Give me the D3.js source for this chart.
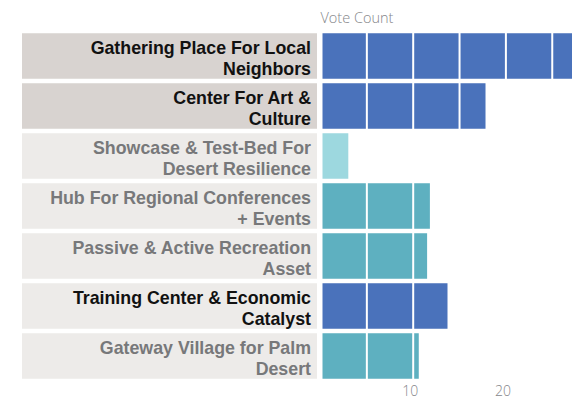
<!DOCTYPE html>
<html>
<head>
<meta charset="utf-8">
<script src="https://cdn.jsdelivr.net/npm/d3@7"></script>
<style>
  html, body { margin: 0; padding: 0; background: #fff; }
  svg { display: block; }
</style>
</head>
<body>
<svg id="chart" width="572" height="400"></svg>
<script>
// ---- data ----
const categories = [
  ["Gathering Place For Local", "Neighbors"],
  ["Center For Art &", "Culture"],
  ["Showcase & Test-Bed For", "Desert Resilience"],
  ["Hub For Regional Conferences", "+ Events"],
  ["Passive & Active Recreation", "Asset"],
  ["Training Center & Economic", "Catalyst"],
  ["Gateway Village for Palm", "Desert"]
];
const voteCounts = [28, 17.8, 3, 11.8, 11.5, 13.7, 10.6];
const groups = ["primary", "primary", "minor", "secondary", "secondary", "primary", "secondary"];
const highlighted = [true, true, false, false, false, true, false];
const boxShade = ["dark", "dark", "light", "light", "light", "light", "light"];
const tickValues = [10, 20];
const gridValues = [5, 10, 15, 20, 25, 30];
const axisTitle = "Vote Count";

// ---- styles ----
const barColor = { primary: "#4a72bb", secondary: "#5eb0c0", minor: "#9dd8df" };
const boxColor = { dark: "#d8d3d0", light: "#edebe9" };

const svg = d3.select("#chart");
const keys = categories.map((c, i) => i);

const y = d3.scaleBand().domain(keys).range([31, 381]).paddingInner(0.09).paddingOuter(0.045);
const x = d3.scaleLinear().domain([0, 30]).range([320.5, 320.5 + 30 * 9.27]);

// label boxes
svg.append("g").selectAll("rect").data(keys).join("rect")
  .attr("x", 22).attr("width", 295)
  .attr("y", i => y(i)).attr("height", y.bandwidth())
  .attr("fill", i => boxColor[boxShade[i]]);

// labels
const lab = svg.append("g").selectAll("text").data(keys).join("text")
  .attr("text-anchor", "end")
  .attr("font-family", "'Liberation Sans', Arial, sans-serif")
  .attr("font-weight", "bold")
  .attr("font-size", 17.8)
  .attr("fill", i => highlighted[i] ? "#111111" : "#77787a");
lab.each(function(i) {
  const t = d3.select(this);
  const cy = y(i) + y.bandwidth() / 2;
  categories[i].forEach((line, k) => {
    t.append("tspan").attr("x", 311).attr("y", cy - 2 + k * 20.5).text(line);
  });
});

// bars
svg.append("g").selectAll("rect").data(keys).join("rect")
  .attr("x", x(0) + 2)
  .attr("y", i => y(i))
  .attr("height", y.bandwidth())
  .attr("width", i => x(voteCounts[i]) - x(0) - 2)
  .attr("fill", i => barColor[groups[i]]);

// white gridlines over bars
svg.append("g").selectAll("line").data(gridValues).join("line")
  .attr("x1", d => x(d)).attr("x2", d => x(d))
  .attr("y1", y.range()[0]).attr("y2", y.range()[1])
  .attr("stroke", "#ffffff").attr("stroke-width", 2);

// axis title
svg.append("text")
  .attr("x", x(0)).attr("y", 23)
  .attr("font-family", "'Open Sans', sans-serif")
  .attr("font-weight", 300)
  .attr("font-size", 14.5)
  .attr("fill", "#85868a")
  .text(axisTitle);

// tick labels
svg.append("g").selectAll("text").data(tickValues).join("text")
  .attr("x", d => x(d) - 3).attr("y", 396)
  .attr("text-anchor", "middle")
  .attr("font-family", "'Open Sans', sans-serif")
  .attr("font-weight", 300)
  .attr("font-size", 14)
  .attr("fill", "#85868a")
  .text(d => d);
</script>
</body>
</html>
